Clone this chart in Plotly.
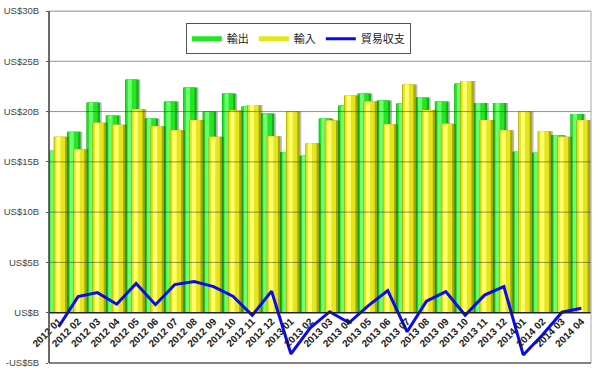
import plotly.graph_objects as go

months = ["2012 01","2012 02","2012 03","2012 04","2012 05","2012 06","2012 07","2012 08","2012 09","2012 10","2012 11","2012 12",
          "2013 01","2013 02","2013 03","2013 04","2013 05","2013 06","2013 07","2013 08","2013 09","2013 10","2013 11","2013 12",
          "2014 01","2014 02","2014 03","2014 04"]
exports = [16.1, 18.0, 20.9, 19.6, 23.2, 19.3, 21.0, 22.4, 20.0, 21.8, 20.5, 19.8,
           15.95, 15.6, 19.3, 20.6, 21.8, 21.1, 20.8, 21.4, 21.0, 22.8, 20.85, 20.85,
           16.0, 15.9, 17.65, 19.75]
imports = [17.5, 16.25, 18.9, 18.7, 20.25, 18.55, 18.15, 19.15, 17.5, 20.1, 20.65, 17.55,
           20.0, 16.85, 19.1, 21.6, 21.0, 18.75, 22.7, 20.15, 18.8, 23.05, 19.15, 18.15,
           20.0, 18.05, 17.5, 19.15]
balance = [-1.4, 1.6, 2.0, 0.85, 2.9, 0.8, 2.8, 3.1, 2.6, 1.65, -0.25, 2.15,
           -4.1, -1.5, 0.1, -1.0, 0.7, 2.2, -1.9, 1.15, 2.1, -0.25, 1.75, 2.6,
           -4.2, -2.2, 0.05, 0.45]
series_names = ["輸出", "輸入", "貿易収支"]
y_tick_vals = [-5, 0, 5, 10, 15, 20, 25, 30]
y_tick_text = ["-US$5B", "US$B", "US$5B", "US$10B", "US$15B", "US$20B", "US$25B", "US$30B"]

FONT = "Liberation Sans, Arial, Noto Sans CJK JP"

fig = go.Figure()

def bar3d(vals, base_off, width, shades):
    dark, mid, light = shades
    fig.add_trace(go.Bar(x=months, y=vals, offset=base_off + 0.09, width=width,
                         marker=dict(color="rgba(0,0,0,0.28)", line=dict(width=0)),
                         showlegend=False, hoverinfo="skip"))
    fig.add_trace(go.Bar(x=months, y=vals, offset=base_off, width=width,
                         marker=dict(color=dark, line=dict(width=0)),
                         showlegend=False, hoverinfo="skip"))
    fig.add_trace(go.Bar(x=months, y=vals, offset=base_off + 0.04, width=width * 0.78,
                         marker=dict(color=mid, line=dict(width=0)),
                         showlegend=False, hoverinfo="skip"))
    fig.add_trace(go.Bar(x=months, y=vals, offset=base_off + 0.14, width=width * 0.3,
                         marker=dict(color=light, line=dict(width=0)),
                         showlegend=False, hoverinfo="skip"))

bar3d(exports, -0.57, 0.70, ("#14b014", "#22e622", "#70ff70"))
bar3d(imports, -0.26, 0.70, ("#a8a800", "#e6e61c", "#ffff70"))

fig.add_trace(go.Scatter(x=months, y=balance, mode="lines",
                         line=dict(color="#0a0aee", width=3),
                         showlegend=False, hoverinfo="skip"))

# legend entries
fig.add_trace(go.Scatter(x=[None], y=[None], mode="lines", name=series_names[0],
                         line=dict(color="#22e622", width=5)))
fig.add_trace(go.Scatter(x=[None], y=[None], mode="lines", name=series_names[1],
                         line=dict(color="#e6e61c", width=5)))
fig.add_trace(go.Scatter(x=[None], y=[None], mode="lines", name=series_names[2],
                         line=dict(color="#0a0aee", width=3)))

shapes = []
for v in y_tick_vals[1:]:
    shapes.append(dict(type="line", xref="paper", x0=0, x1=1, yref="y", y0=v, y1=v,
                       line=dict(color="rgba(60,60,60,0.55)" if v != 0 else "#222", width=1 if v != 0 else 1.5),
                       layer="above"))
shapes.append(dict(type="rect", xref="paper", yref="paper", x0=0, x1=1, y0=0, y1=1,
                   line=dict(color="#a8a8a8", width=1), layer="above"))
shapes.append(dict(type="line", xref="paper", yref="paper", x0=0, x1=1, y0=0, y1=0,
                   line=dict(color="#333", width=1.2), layer="above"))
shapes.append(dict(type="line", xref="paper", yref="paper", x0=0, x1=0, y0=0, y1=1,
                   line=dict(color="#222", width=1.2), layer="above"))

fig.update_layout(
    width=600, height=371,
    margin=dict(l=49, r=9, t=11, b=8, autoexpand=False),
    paper_bgcolor="white", plot_bgcolor="white",
    barmode="overlay",
    font=dict(family=FONT, size=11, color="#333"),
    shapes=shapes,
    xaxis=dict(type="category", categoryorder="array", categoryarray=months,
               range=[-0.5, len(months) - 0.5], automargin=False,
               anchor="free", position=5 / 35,
               showgrid=False, showline=False, zeroline=False, ticks="",
               tickangle=-45, tickfont=dict(size=10, color="#1a1a1a", family=FONT, weight="bold")),
    xaxis2=dict(overlaying="x", anchor="y", range=[-0.5, len(months) - 0.5], automargin=False,
                tick0=2.5, dtick=3, showgrid=True, gridcolor="#d4d4d4", gridwidth=1,
                showticklabels=False, ticks="", showline=False, zeroline=False),
    yaxis=dict(range=[-5, 30], tickvals=y_tick_vals, ticktext=y_tick_text, automargin=False,
               showgrid=False, zeroline=False, showline=False,
               ticks="outside", ticklen=2, tickcolor="#555", ticklabelstandoff=5,
               tickfont=dict(size=9.5, color="#444", family=FONT)),
    legend=dict(orientation="h", x=0.46, y=0.965, xanchor="center", yanchor="top",
                bgcolor="white", bordercolor="#555", borderwidth=1,
                font=dict(size=11, color="#222", family=FONT),
                itemwidth=30, tracegroupgap=0),
    showlegend=True,
)

fig.write_html("out.html", config={"displayModeBar": False},
               post_script="document.body.style.margin='0';document.body.style.padding='0';")
